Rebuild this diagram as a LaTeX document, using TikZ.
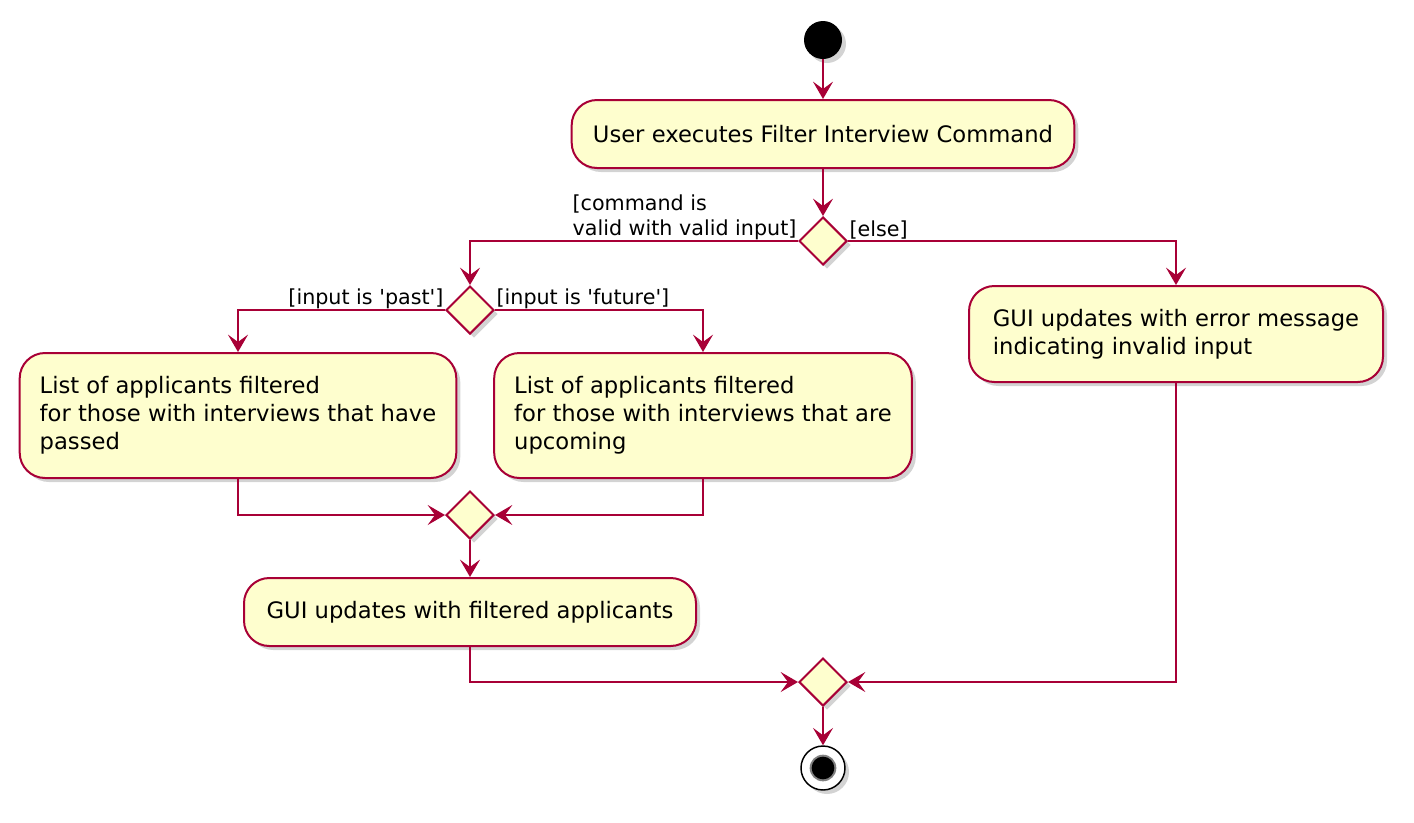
\documentclass[tikz,border=0pt]{standalone}
\usepackage{fontspec}
\setmainfont{DejaVu Sans}
\usetikzlibrary{arrows.meta,shapes.geometric,shadows}
\definecolor{umlred}{HTML}{A80036}
\definecolor{umlfill}{HTML}{FEFECE}

\begin{document}
\begin{tikzpicture}[x=0.75pt,y=-0.75pt,
        shade/.style={drop shadow={shadow xshift=3pt,shadow yshift=-3pt,opacity=0.35}},
        action/.style={draw=umlred,fill=umlfill,line width=1.5pt,rounded corners=19pt,shade,
            align=left,inner xsep=15pt,font=\fontsize{17pt}{21pt}\selectfont},
        choice/.style={diamond,aspect=1,draw=umlred,fill=umlfill,line width=1.5pt,
            minimum width=36pt,minimum height=36pt,inner sep=0pt,shade},
        guard/.style={align=left,inner sep=1pt,font=\fontsize{15.5pt}{18.75pt}\selectfont},
        flow/.style={draw=umlred,line width=1.6pt,-{Stealth[length=13pt,width=15pt,inset=5.5pt]}}]
        \useasboundingbox (0,0) rectangle (1414,822);
        \node[circle,fill=black,minimum size=28.5pt,inner sep=0pt,shade] (start) at (823,40) {};
        \node[action,align=center,minimum width=377pt,minimum height=51pt] (cmd) at (823,134) {User executes Filter Interview Command};
        \node[choice] (d1) at (823,241) {};
        \node[choice] (d2) at (470,310) {};
        \node[action,minimum width=324pt,minimum height=93.75pt] (past) at (238,415.5) {List of applicants filtered\\for those with interviews that have\\passed};
        \node[action,minimum width=311.25pt,minimum height=93.75pt] (future) at (703,415.5) {List of applicants filtered\\for those with interviews that are\\upcoming};
        \node[action,minimum width=310.5pt,minimum height=72pt] (err) at (1176,334) {GUI updates with error message\\indicating invalid input};
        \node[choice] (d3) at (470,515) {};
        \node[action,align=center,minimum width=339pt,minimum height=51pt] (gui) at (470,612) {GUI updates with filtered applicants};
        \node[choice] (d4) at (823,682) {};
        \node[circle,draw=black,line width=1.1pt,fill=white,minimum size=33pt,inner sep=0pt,shade,
            path picture={\fill[gray] (path picture bounding box.center) circle (10pt);
                \fill[black] (path picture bounding box.center) circle (8.5pt);}] (end) at (823,768) {};

        \node[guard,anchor=south east] (gvalid) at (d1.west) {[command is\\valid with valid input]};
        \node[guard,anchor=south west] (gelse) at (d1.east) {[else]};
        \node[guard,anchor=south east] (gpast) at (d2.west) {[input is \textquotesingle past\textquotesingle]};
        \node[guard,anchor=south west] (gfuture) at (d2.east) {[input is \textquotesingle future\textquotesingle]};

        \draw[flow] (start) -- (cmd);
        \draw[flow] (cmd) -- (d1);
        \draw[flow] (d1.west) -| (d2.north);
        \draw[flow] (d1.east) -| (err.north);
        \draw[flow] (d2.west) -| (past.north);
        \draw[flow] (d2.east) -| (future.north);
        \draw[flow] (past.south) |- (d3.west);
        \draw[flow] (future.south) |- (d3.east);
        \draw[flow] (d3) -- (gui);
        \draw[flow] (gui.south) |- (d4.west);
        \draw[flow] (err.south) |- (d4.east);
        \draw[flow] (d4) -- (end);
    \end{tikzpicture}
\end{document}
